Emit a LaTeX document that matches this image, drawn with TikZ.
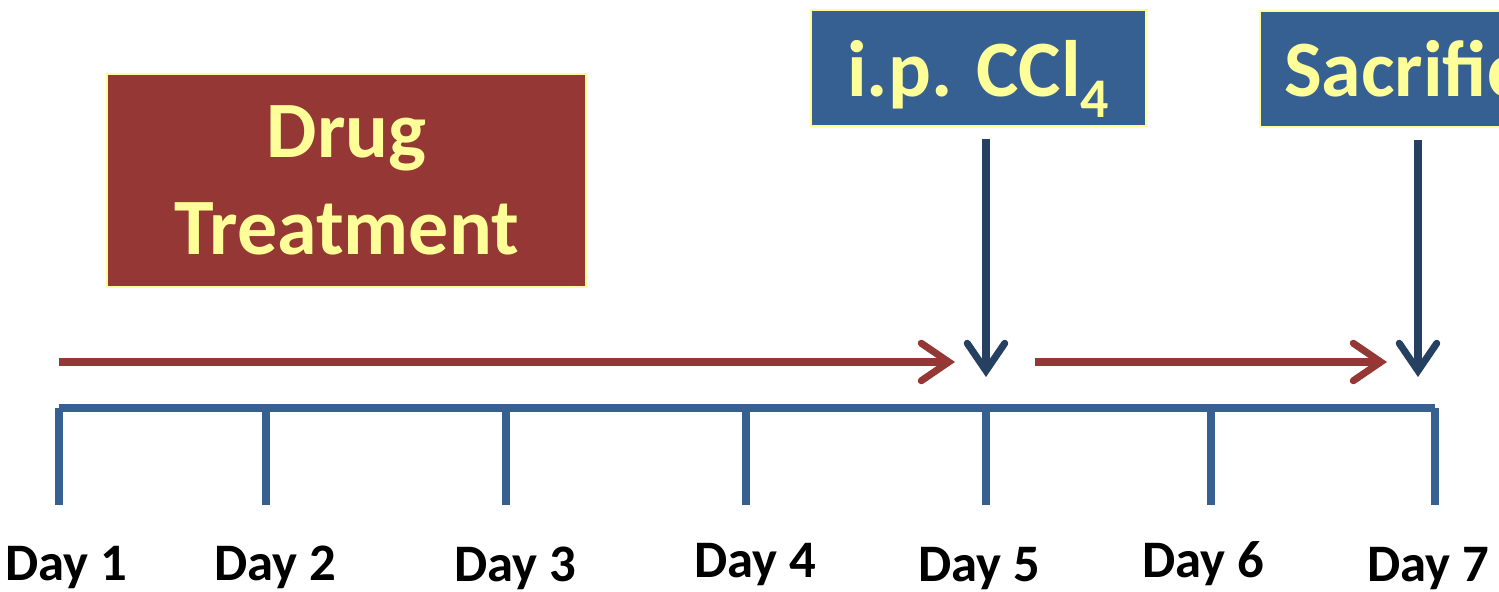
\documentclass[tikz,border=0pt]{standalone}
\usepackage{fontspec}
\setmainfont{Carlito}
\usetikzlibrary{arrows.meta}
\definecolor{drugred}{HTML}{953735}
\definecolor{axisblue}{HTML}{376092}
\definecolor{navyblue}{HTML}{254061}
\definecolor{paleyellow}{HTML}{FFFF99}

\begin{document}
\begin{tikzpicture}[x=0.02cm,y=-0.02cm,
  box/.style={draw=paleyellow,line width=1.1pt,text=paleyellow,inner sep=0pt,
    align=center,font=\fontsize{45.5}{55}\selectfont\bfseries},
  axis/.style={axisblue,line width=4pt},
  dose/.style={drugred,line width=4pt,
    -{Straight Barb[length=0.55cm,width=0.75cm,line cap=round]}},
  inject/.style={navyblue,line width=4pt,
    -{Straight Barb[length=0.55cm,width=0.75cm,line cap=round]}},
  daylabel/.style={anchor=base,font=\fontsize{30}{36}\selectfont\bfseries}]
\useasboundingbox (0,0) rectangle (1499,592);

% boxes
\node[box,fill=drugred,minimum width=9.58cm,minimum height=4.26cm] (drug) at (346.5,180.5) {Drug\\Treatment};
\node[box,fill=axisblue,minimum width=6.7cm,minimum height=2.32cm] (ccl) at (978.5,68) {\raisebox{0pt}[\height][0pt]{i.p. CCl\textsubscript{4}}};
\node[box,fill=axisblue,minimum width=6.5cm,minimum height=2.32cm,anchor=north west] (sac) at (1259,10) {Sacrifice};

% timeline
\foreach \x/\lx/\ly [count=\i] in {59/66/580,266/275/580,506/515/581,746/755/577,986/979/581,1211/1203/577,1435/1428/581}{
  \coordinate (t\i) at (\x,408);
  \draw[axis] (t\i) -- ++(0,97);
  \node[daylabel] (day\i) at (\lx,\ly) {Day \i};
}
\draw[axis] (t1) -- (t7);

% arrows
\coordinate (r1s) at (59,362);
\coordinate (r1e) at (955,362);
\coordinate (r2s) at (1035,362);
\coordinate (r2e) at (1387,362);
\coordinate (b1e) at (986,377);
\coordinate (b2e) at (1418,377);
\draw[dose] (r1s) -- (r1e);
\draw[dose] (r2s) -- (r2e);
\draw[inject,shorten <=0.24cm] (ccl.south -| b1e) -- (b1e);
\draw[inject,shorten <=0.24cm] (sac.south west -| b2e) -- (b2e);
\end{tikzpicture}
\end{document}
